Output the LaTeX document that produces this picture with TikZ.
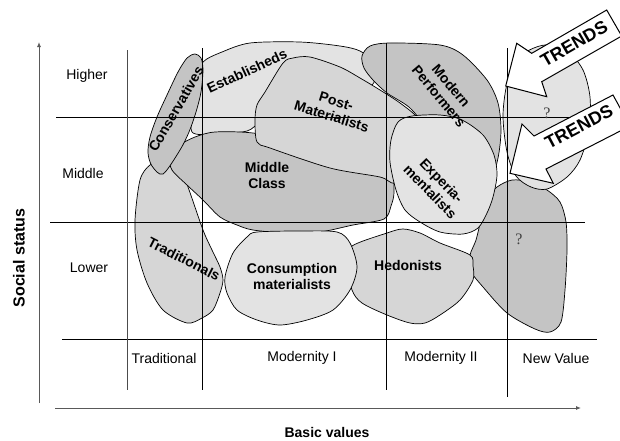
\documentclass[tikz,border=0pt]{standalone}
\usepackage{fontspec}
\setmainfont{Liberation Sans}
\newfontfamily\qfont{Liberation Serif}
\usetikzlibrary{arrows.meta}
\definecolor{lightg}{HTML}{E3E3E3}
\definecolor{midg}{HTML}{D6D6D6}
\definecolor{darkg}{HTML}{C4C4C4}
\begin{document}
\begin{tikzpicture}[x=1pt,y=-1pt,
 blob/.style={draw=black, line width=0.7pt, line join=round},
 lbl/.style={font=\fontsize{14}{16}\selectfont\bfseries, align=center, inner sep=0pt},
 axlbl/.style={font=\fontsize{14}{16}\selectfont, inner sep=0pt},
 gridline/.style={line width=0.8pt, black},
 axisline/.style={line width=0.9pt, gray!70!black, -{Latex[length=5pt,width=4pt]}},
 trend/.style={draw=black, fill=white, line width=1pt, line join=miter},
 tlbl/.style={font=\fontsize{18}{20}\selectfont\bfseries, inner sep=0pt},
 qlbl/.style={font=\qfont\fontsize{16}{18}\selectfont, inner sep=0pt, text=black!75}
]
\clip (0,0) rectangle (620,440);
\fill[white] (0,0) rectangle (620,440);

% blobs
\filldraw[blob, fill=lightg] plot[smooth cycle, tension=0.5] coordinates {(197,80) (203,62) (222,52) (250,43) (300,42) (340,46) (360,51) (372,62) (372,85) (330,95) (265,120) (247,131) (215,134) (192,132) (194,105)};
\filldraw[blob, fill=midg] plot[smooth cycle, tension=0.5] coordinates {(135,220) (140,180) (150,165) (165,160) (180,168) (188,187) (203,230) (212,250) (220,267) (223,280) (220,293) (213,310) (202,318) (187,323) (163,310) (147,283) (137,250)};
\filldraw[blob, fill=darkg] plot[smooth cycle, tension=0.5] coordinates {(170,157) (180,145) (195,137) (215,132) (253,133) (300,142) (360,157) (390,172) (394,192) (391,206) (384,219) (353,225) (320,232) (287,233) (253,230) (237,225) (220,217) (203,200) (187,185) (172,170)};
\filldraw[blob, fill=darkg] plot[smooth cycle, tension=0.5] coordinates {(187,58) (195,54) (201,58) (203,70) (201,92) (196,112) (189,132) (180,150) (163,174) (152,166) (148,153) (150,137) (157,117) (167,95) (178,72)};
\filldraw[blob, fill=midg] plot[smooth cycle, tension=0.5] coordinates {(255,120) (257,105) (265,92) (283,63) (293,58) (310,57) (340,67) (360,78) (380,90) (400,103) (417,117) (428,135) (420,168) (395,183) (380,177) (330,168) (270,148) (257,142)};
\filldraw[blob, fill=darkg] plot[smooth cycle, tension=0.5] coordinates {(362,56) (370,46) (390,43) (440,45) (463,55) (487,80) (498,103) (501,130) (498,158) (490,180) (465,192) (440,185) (425,130) (410,108) (387,93) (373,80) (364,68)};
\filldraw[blob, fill=darkg] plot[smooth cycle, tension=0.5] coordinates {(497,187) (512,180) (530,182) (547,190) (560,202) (566,222) (567,250) (565,290) (561,322) (550,332) (535,329) (507,313) (483,287) (470,270) (470,255) (476,240) (481,220) (488,198)};
\filldraw[blob, fill=lightg] plot[smooth cycle, tension=0.5] coordinates {(391,140) (398,122) (412,116) (440,115) (462,120) (483,135) (494,155) (497,175) (493,197) (487,213) (478,228) (463,234) (440,232) (420,222) (405,210) (396,190) (390,162)};
\filldraw[blob, fill=lightg] plot[smooth cycle, tension=0.5] coordinates {(503,115) (508,80) (522,55) (545,45) (568,52) (583,70) (590,97) (589,130) (580,160) (567,177) (547,189) (531,187) (516,176) (507,152)};
\filldraw[blob, fill=midg] plot[smooth cycle, tension=0.5] coordinates {(346,262) (352,246) (387,233) (403,229) (420,233) (440,243) (470,255) (473,266) (473,280) (460,300) (440,315) (425,323) (410,323) (387,315) (362,303) (352,290)};
\filldraw[blob, fill=lightg] plot[smooth cycle, tension=0.5] coordinates {(247,237) (257,232) (300,231) (337,232) (350,243) (357,267) (350,290) (333,310) (307,320) (280,325) (257,320) (237,310) (227,293) (225,277) (233,253)};

% grid
\draw[gridline] (56,117) -- (583,117);
\draw[gridline] (50,222) -- (585,222);
\draw[gridline] (62,339) -- (597,339);
\draw[gridline, gray!60!black] (127,50) -- (127,390);
\draw[gridline] (202,48) -- (202,390);
\draw[gridline] (386,43) -- (386,390);
\draw[gridline] (507,48) -- (507,397);

% axes
\coordinate (yaxB) at (39,403);
\coordinate (yaxT) at (39,42);
\coordinate (xaxL) at (55,408);
\coordinate (xaxR) at (581,408);
\draw[axisline] (yaxB) -- (yaxT);
\draw[axisline] (xaxL) -- (xaxR);
\node[lbl, rotate=90, font=\fontsize{16}{18}\selectfont\bfseries] (social) at (19,258) {Social status};
\node[lbl] (basic) at (327,432) {Basic values};

% row / column labels
\node[axlbl] (higher) at (87,76) {Higher};
\node[axlbl] (middle) at (83,173) {Middle};
\node[axlbl] (lower) at (89,268) {Lower};
\node[axlbl] (ctrad) at (164,358) {Traditional};
\node[axlbl] (cmod1) at (302,358) {Modernity I};
\node[axlbl] (cmod2) at (441,358) {Modernity II};
\node[axlbl] (cnew) at (556,358) {New Value};

% blob labels
\node[lbl, rotate=25] (estab) at (247,71) {Establisheds};
\node[lbl, rotate=60] (cons) at (176,109) {Conservatives};
\node[lbl, rotate=-17] (postmat) at (334,109) {Post-\\Materialists};
\node[lbl] (midcl) at (267,175) {Middle\\Class};
\node[lbl, rotate=-50] (modperf) at (445,91) {Modern\\Performers};
\node[lbl, rotate=-46] (experi) at (436,186) {Experia-\\mentalists};
\node[lbl, rotate=-27] (trad) at (184,259) {Traditionals};
\node[lbl] (consum) at (292,276) {Consumption\\materialists};
\node[lbl] (hedon) at (408,265) {Hedonists};
\node[qlbl] (q1) at (547,113) {?};
\node[qlbl] (q2) at (519,239) {?};

% trend arrows
\draw[trend] (505.7,86) -- (516.7,43.3) -- (531.7,53.3) -- (606.7,10) -- (621.7,36) -- (541.7,81.7) -- (546.7,96.7) -- cycle;
\draw[trend] (510,173.3) -- (522,124) -- (534,136) -- (613,95) -- (630,126) -- (546,169) -- (553.3,183.3) -- cycle;
\node[tlbl, rotate=30] (tr1) at (574,44) {TRENDS};
\node[tlbl, rotate=28] (tr2) at (579,127) {TRENDS};
\end{tikzpicture}
\end{document}
